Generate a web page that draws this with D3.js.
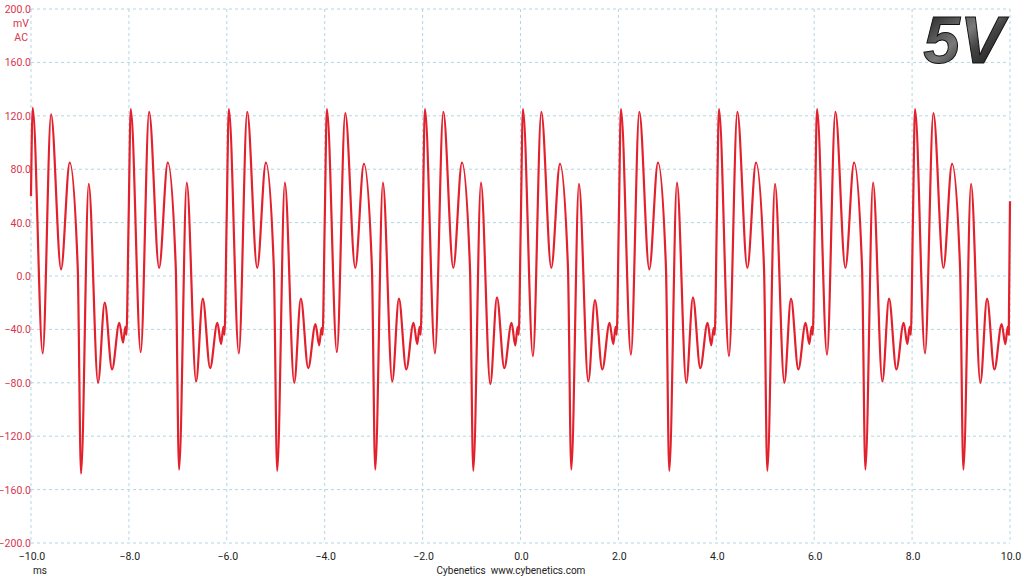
<!DOCTYPE html>
<html>
<head>
<meta charset="utf-8">
<script src="https://cdn.jsdelivr.net/npm/d3@7"></script>
<style>
  body { margin: 0; background: #fff; }
  svg { display: block; }
</style>
</head>
<body>
<svg width="1024" height="576"></svg>
<script>
// tick labels
const xTicks = [-10, -8, -6, -4, -2, 0, 2, 4, 6, 8, 10];
const yTicks = [200, 160, 120, 80, 40, 0, -40, -80, -120, -160, -200];

// waveform key points, one row per cycle (ms, mV)
const timeMs = [
  -10.000,
  -9.965, -9.761, -9.590, -9.386, -9.209, -9.046, -8.978, -8.821, -8.630, -8.494, -8.344, -8.195, -8.120, -8.072, -8.050, -8.007,
  -7.962, -7.758, -7.587, -7.383, -7.206, -7.043, -6.975, -6.818, -6.627, -6.491, -6.341, -6.192, -6.117, -6.069, -6.047, -6.004,
  -5.958, -5.754, -5.583, -5.379, -5.202, -5.039, -4.971, -4.814, -4.623, -4.487, -4.337, -4.188, -4.113, -4.065, -4.043, -4.000,
  -3.955, -3.751, -3.580, -3.376, -3.199, -3.036, -2.968, -2.811, -2.620, -2.484, -2.334, -2.185, -2.110, -2.062, -2.040, -1.997,
  -1.952, -1.748, -1.577, -1.373, -1.196, -1.033, -0.965, -0.808, -0.617, -0.481, -0.331, -0.182, -0.107, -0.059, -0.037, 0.006,
  0.050, 0.254, 0.425, 0.629, 0.806, 0.969, 1.037, 1.194, 1.385, 1.521, 1.671, 1.820, 1.895, 1.943, 1.965, 2.008,
  2.052, 2.256, 2.427, 2.631, 2.808, 2.971, 3.039, 3.196, 3.387, 3.523, 3.673, 3.822, 3.897, 3.945, 3.967, 4.010,
  4.055, 4.259, 4.430, 4.634, 4.811, 4.974, 5.042, 5.199, 5.390, 5.526, 5.676, 5.825, 5.900, 5.948, 5.970, 6.013,
  6.058, 6.262, 6.433, 6.637, 6.814, 6.977, 7.045, 7.202, 7.393, 7.529, 7.679, 7.828, 7.903, 7.951, 7.973, 8.016,
  8.060, 8.264, 8.435, 8.639, 8.816, 8.979, 9.047, 9.204, 9.395, 9.531, 9.681, 9.830, 9.905, 9.953, 9.975, 10.000
];
const voltageMv = [
  60,
  126, -58, 121, 5, 85, 7, -148, 69, -80, -20, -70, -35, -50, -38, -44, 40,
  125, -57, 123, 6, 85, 7, -145, 70, -79, -17, -69, -35, -51, -38, -44, 40,
  125, -58, 123, 6, 85, 6, -146, 70, -80, -17, -69, -36, -52, -39, -44, 40,
  125, -57, 122, 6, 84, 7, -145, 70, -79, -17, -70, -35, -51, -38, -44, 40,
  125, -58, 123, 6, 85, 7, -146, 70, -81, -16, -69, -35, -52, -38, -44, 40,
  125, -60, 123, 6, 84, 7, -145, 69, -79, -18, -70, -35, -51, -38, -44, 40,
  125, -59, 123, 5, 85, 7, -146, 70, -80, -16, -69, -35, -52, -39, -44, 40,
  125, -60, 123, 6, 85, 7, -146, 69, -80, -17, -70, -35, -51, -38, -44, 40,
  125, -59, 123, 6, 85, 7, -145, 70, -79, -17, -70, -35, -51, -38, -44, 40,
  125, -58, 122, 6, 84, 7, -145, 69, -80, -17, -70, -36, -51, -38, -44, 56
];

const svg = d3.select('svg');

// plot box
const plotLeft = 31, plotRight = 1010, plotTop = 9, plotBottom = 543;

const x = d3.scaleLinear().domain([-10, 10]).range([plotLeft, plotRight]);
const y = d3.scaleLinear().domain([-200, 200]).range([plotBottom, plotTop]);

const fmt = d3.format('.1f');
const labelFont = 'Roboto, sans-serif';

// dashed grid
svg.append('g')
  .selectAll('line')
  .data(xTicks)
  .join('line')
    .attr('x1', d => x(d)).attr('x2', d => x(d))
    .attr('y1', plotTop).attr('y2', plotBottom)
    .attr('stroke', '#b2d7e2')
    .attr('stroke-width', 1)
    .attr('stroke-dasharray', '3,3');

svg.append('g')
  .selectAll('line')
  .data(yTicks)
  .join('line')
    .attr('x1', plotLeft).attr('x2', plotRight)
    .attr('y1', d => y(d)).attr('y2', d => y(d))
    .attr('stroke', '#b2d7e2')
    .attr('stroke-width', 1)
    .attr('stroke-dasharray', '3,3');

// y labels (red)
svg.append('g')
  .selectAll('text')
  .data(yTicks)
  .join('text')
    .attr('x', plotLeft)
    .attr('y', d => y(d) + 4)
    .attr('text-anchor', 'end')
    .attr('font-family', labelFont)
    .attr('font-size', 10.5)
    .attr('fill', '#d8354c')
    .text(d => fmt(d));

svg.append('text')
  .attr('x', plotLeft - 2).attr('y', 27)
  .attr('text-anchor', 'end')
  .attr('font-family', labelFont)
  .attr('font-size', 10.5)
  .attr('fill', '#d8354c')
  .text('mV');

svg.append('text')
  .attr('x', plotLeft - 3).attr('y', 41)
  .attr('text-anchor', 'end')
  .attr('font-family', labelFont)
  .attr('font-size', 10.5)
  .attr('fill', '#d8354c')
  .text('AC');

// x labels
svg.append('g')
  .selectAll('text')
  .data(xTicks)
  .join('text')
    .attr('x', d => x(d) + 1)
    .attr('y', 560)
    .attr('text-anchor', 'middle')
    .attr('font-family', labelFont)
    .attr('font-size', 10.5)
    .attr('fill', '#222')
    .text(d => fmt(d));

svg.append('text')
  .attr('x', 33).attr('y', 574)
  .attr('font-family', labelFont)
  .attr('font-size', 10)
  .attr('fill', '#222')
  .text('ms');

svg.append('text')
  .attr('x', 511).attr('y', 574)
  .attr('text-anchor', 'middle')
  .attr('font-family', labelFont)
  .attr('font-size', 10)
  .attr('fill', '#222')
  .style('white-space', 'pre')
  .text('Cybenetics  www.cybenetics.com');

// waveform
const line = d3.line()
  .x(d => x(d[0]))
  .y(d => y(d[1]))
  .curve(d3.curveMonotoneX);

svg.append('path')
  .datum(d3.zip(timeMs, voltageMv))
  .attr('d', line)
  .attr('fill', 'none')
  .attr('stroke', '#e3212d')
  .attr('stroke-width', 2.2)
  .attr('stroke-linejoin', 'round');

// big "5V" badge
const defs = svg.append('defs');
const grad = defs.append('linearGradient')
  .attr('id', 'metal')
  .attr('x1', 0).attr('y1', 0).attr('x2', 1).attr('y2', 1);
grad.append('stop').attr('offset', '0%').attr('stop-color', '#111');
grad.append('stop').attr('offset', '45%').attr('stop-color', '#7a7a7a');
grad.append('stop').attr('offset', '60%').attr('stop-color', '#444');
grad.append('stop').attr('offset', '100%').attr('stop-color', '#0a0a0a');

svg.append('text')
  .attr('x', 1004).attr('y', 63)
  .attr('text-anchor', 'end')
  .attr('font-family', 'Liberation Sans, Arial, sans-serif')
  .attr('font-weight', 'bold')
  .attr('font-style', 'italic')
  .attr('font-size', 66)
  .attr('fill', 'url(#metal)')
  .attr('stroke', '#111')
  .attr('stroke-width', 1)
  .text('5V');
</script>
</body>
</html>
